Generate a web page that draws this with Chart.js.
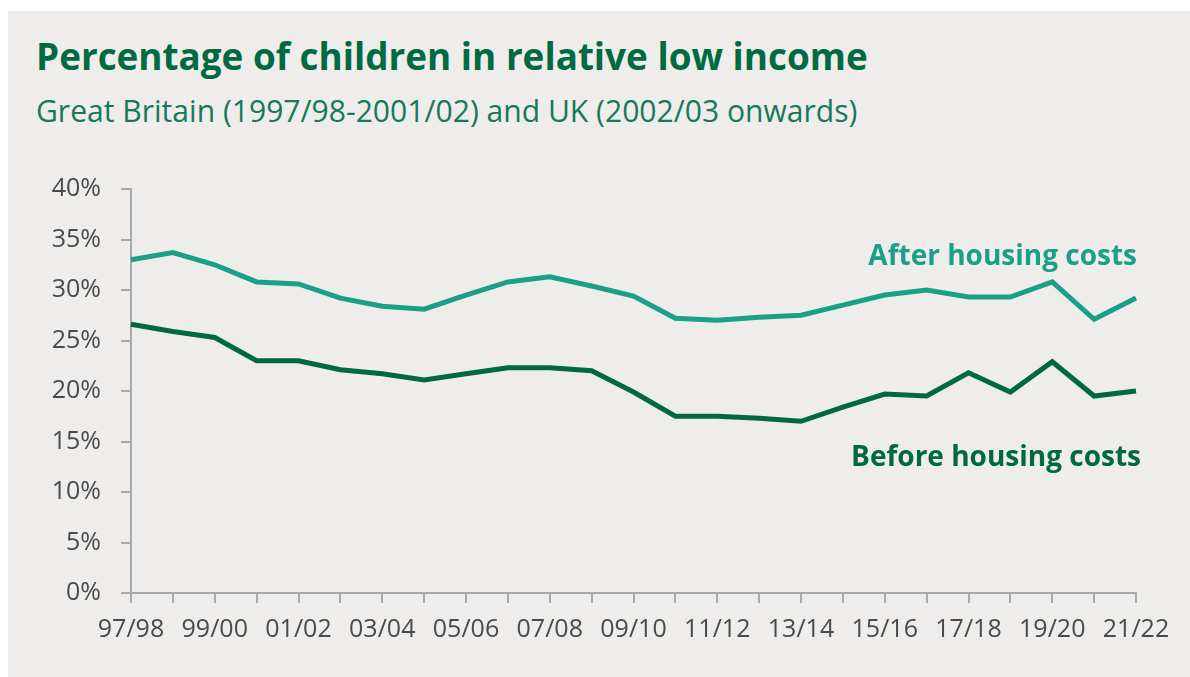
<!DOCTYPE html>
<html>
<head>
<meta charset="utf-8">
<script src="https://cdn.jsdelivr.net/npm/chart.js@4.4.0/dist/chart.umd.min.js"></script>
<style>
    html, body { margin: 0; padding: 0; background: #ffffff; }
    .panel {
        position: absolute; left: 8px; top: 11px; width: 1182px; height: 666px;
        background: #eeedeb;
    }
    .title {
        position: absolute; left: 36px; top: 36px; margin: 0;
        font-family: "Open Sans", sans-serif; font-weight: 700; font-size: 32px; line-height: 40px;
        color: #006a43; white-space: nowrap;
    }
    .subtitle {
        position: absolute; left: 36px; top: 95px; margin: 0;
        font-family: "Open Sans", sans-serif; font-weight: 400; font-size: 25px; line-height: 32px;
        color: #17795a; white-space: nowrap;
    }
    canvas { position: absolute; left: 0; top: 0; }
</style>
</head>
<body>
<div class="panel"></div>
<h1 class="title" id="title">Percentage of children in relative low income</h1>
<div class="subtitle" id="subtitle">Great Britain (1997/98-2001/02) and UK (2002/03 onwards)</div>
<canvas id="chart" width="1190" height="677"></canvas>

<script>
// años fiscales, 97/98 a 21/22
const years = ['97/98', '98/99', '99/00', '00/01', '01/02', '02/03', '03/04', '04/05', '05/06',
    '06/07', '07/08', '08/09', '09/10', '10/11', '11/12', '12/13', '13/14', '14/15', '15/16',
    '16/17', '17/18', '18/19', '19/20', '20/21', '21/22'];

// % de niños en renta relativa baja
const afterHousing = [33.0, 33.7, 32.5, 30.8, 30.6, 29.2, 28.4, 28.1, 29.5, 30.8, 31.3, 30.4, 29.4,
    27.2, 27.0, 27.3, 27.5, 28.5, 29.5, 30.0, 29.3, 29.3, 30.8, 27.1, 29.2];
const beforeHousing = [26.6, 25.9, 25.3, 23.0, 23.0, 22.1, 21.7, 21.1, 21.7, 22.3, 22.3, 22.0, 19.9,
    17.5, 17.5, 17.3, 17.0, 18.4, 19.7, 19.5, 21.8, 19.9, 22.9, 19.5, 20.0];

const yTicks = [0, 5, 10, 15, 20, 25, 30, 35, 40];

const tealColor = '#1aa086';
const darkGreen = '#00693f';
const axisGrey = '#a9a9a9';
const tickFont = { family: '"Open Sans", sans-serif', size: 25 };

// el título original usa una fuente más ancha: ajustamos el tamaño al ancho de la referencia
function fitWidth(el, target) {
    const size = parseFloat(getComputedStyle(el).fontSize);
    el.style.fontSize = (size * target / el.getBoundingClientRect().width) + 'px';
}
fitWidth(document.getElementById('title'), 832);
fitWidth(document.getElementById('subtitle'), 822);

// etiquetas de las series, pintadas al lado de la línea
const seriesLabels = {
    id: 'seriesLabels',
    afterDatasetsDraw(chart) {
        const { ctx, chartArea, scales } = chart;
        ctx.save();
        ctx.font = 'bold 28px "Open Sans", sans-serif';
        ctx.textAlign = 'right';
        ctx.textBaseline = 'middle';
        ctx.fillStyle = tealColor;
        ctx.fillText('After housing costs', chartArea.right + 1, scales.y.getPixelForValue(33.3));
        ctx.fillStyle = darkGreen;
        ctx.fillText('Before housing costs', chartArea.right + 5, scales.y.getPixelForValue(13.4));
        ctx.restore();
    }
};

new Chart(document.getElementById('chart'), {
    type: 'line',
    data: {
        labels: years,
        datasets: [
            {
                label: 'After housing costs',
                data: afterHousing,
                borderColor: tealColor,
                borderWidth: 5,
                pointRadius: 0,
                tension: 0
            },
            {
                label: 'Before housing costs',
                data: beforeHousing,
                borderColor: darkGreen,
                borderWidth: 5,
                pointRadius: 0,
                tension: 0
            }
        ]
    },
    options: {
        responsive: false,
        animation: false,
        layout: { padding: { left: 0, top: 189, right: 54, bottom: 0 } },
        plugins: { legend: { display: false }, tooltip: { enabled: false } },
        scales: {
            x: {
                offset: false,
                grid: { drawOnChartArea: false, drawTicks: true, tickLength: 10, color: axisGrey, lineWidth: 2 },
                border: { color: axisGrey, width: 2 },
                ticks: {
                    autoSkip: false, maxRotation: 0, padding: 12,
                    color: '#4a4a4a', font: tickFont,
                    callback: (v, i) => (i % 2 === 0 ? years[i] : '')
                },
                afterFit: (scale) => { scale.height = 84; }
            },
            y: {
                min: 0, max: 40,
                afterBuildTicks: (scale) => { scale.ticks = yTicks.map(v => ({ value: v })); },
                grid: { drawOnChartArea: false, drawTicks: true, tickLength: 10, color: axisGrey, lineWidth: 2 },
                border: { color: axisGrey, width: 2 },
                ticks: {
                    padding: 20, color: '#4a4a4a', font: tickFont,
                    callback: (v) => v + '%'
                },
                afterFit: (scale) => { scale.width = 131; }
            }
        }
    },
    plugins: [seriesLabels]
});
</script>
</body>
</html>
